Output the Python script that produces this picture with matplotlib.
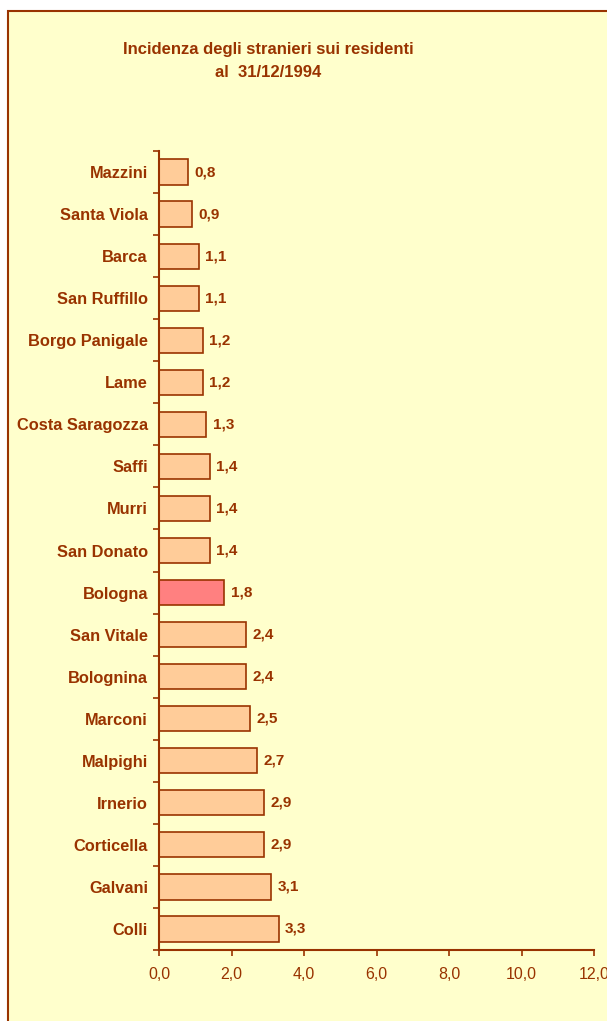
import matplotlib.pyplot as plt
from matplotlib.patches import Rectangle

# quartieri, dall'alto verso il basso
quartieri = ['Mazzini', 'Santa Viola', 'Barca', 'San Ruffillo', 'Borgo Panigale',
             'Lame', 'Costa Saragozza', 'Saffi', 'Murri', 'San Donato', 'Bologna',
             'San Vitale', 'Bolognina', 'Marconi', 'Malpighi', 'Irnerio',
             'Corticella', 'Galvani', 'Colli']
incidenza = [0.8, 0.9, 1.1, 1.1, 1.2, 1.2, 1.3, 1.4, 1.4, 1.4, 1.8,
             2.4, 2.4, 2.5, 2.7, 2.9, 2.9, 3.1, 3.3]
xticks = [0, 2, 4, 6, 8, 10, 12]

rosso = '#993300'
sfondo = '#FFFFCC'
plt.rcParams['font.family'] = ['Liberation Sans', 'DejaVu Sans']

W, H = 607, 1021
fig = plt.figure(figsize=(W / 100, H / 100), dpi=100)
fig.patch.set_facecolor('white')

# cornice del grafico (esce dal bordo a destra e in basso)
fig.patches.append(Rectangle((8 / W, -0.05), 1.1, 1 - 11 / H + 0.05,
                             transform=fig.transFigure, facecolor=sfondo,
                             edgecolor=rosso, linewidth=1.5, zorder=-5))

fig.text(268 / W, 1 - 61 / H, 'Incidenza degli stranieri sui residenti\nal  31/12/1994',
         ha='center', va='center', fontsize=12, fontweight='bold', color=rosso,
         linespacing=1.7)

ax = fig.add_axes([159 / W, 1 - 950 / H, 435 / W, 799 / H])
ax.set_facecolor('none')

colori = ['#FF8080' if q == 'Bologna' else '#FFCC99' for q in quartieri]
pos = list(range(len(quartieri)))
ax.barh(pos, incidenza, height=0.6, color=colori, edgecolor=rosso, linewidth=1.2)
for y, v in zip(pos, incidenza):
    ax.text(v + 0.18, y, f'{v:.1f}'.replace('.', ','), va='center', ha='left',
            fontsize=11, fontweight='bold', color=rosso)

ax.set_ylim(len(quartieri) - 0.5, -0.5)
ax.set_xlim(0, 12)
ax.set_yticks(pos)
ax.set_yticklabels(quartieri, fontsize=11.8, fontweight='bold', color=rosso)
ax.set_yticks([p - 0.5 for p in pos] + [len(pos) - 0.5], minor=True)
ax.tick_params(axis='y', which='major', length=0, pad=8)
ax.tick_params(axis='y', which='minor', length=4, width=1.2, color=rosso, direction='out')
ax.set_xticks(xticks)
ax.set_xticklabels([f'{t:.1f}'.replace('.', ',') for t in xticks], fontsize=11.5, color=rosso)
ax.tick_params(axis='x', length=4, width=1.2, color=rosso, direction='out', pad=8)

for s in ['top', 'right']:
    ax.spines[s].set_visible(False)
for s in ['left', 'bottom']:
    ax.spines[s].set_color(rosso)
    ax.spines[s].set_linewidth(1.5)

for lab in ax.get_xticklabels():
    lab.set_clip_on(False)

fig.savefig('out.png', dpi=100, facecolor=fig.get_facecolor())
